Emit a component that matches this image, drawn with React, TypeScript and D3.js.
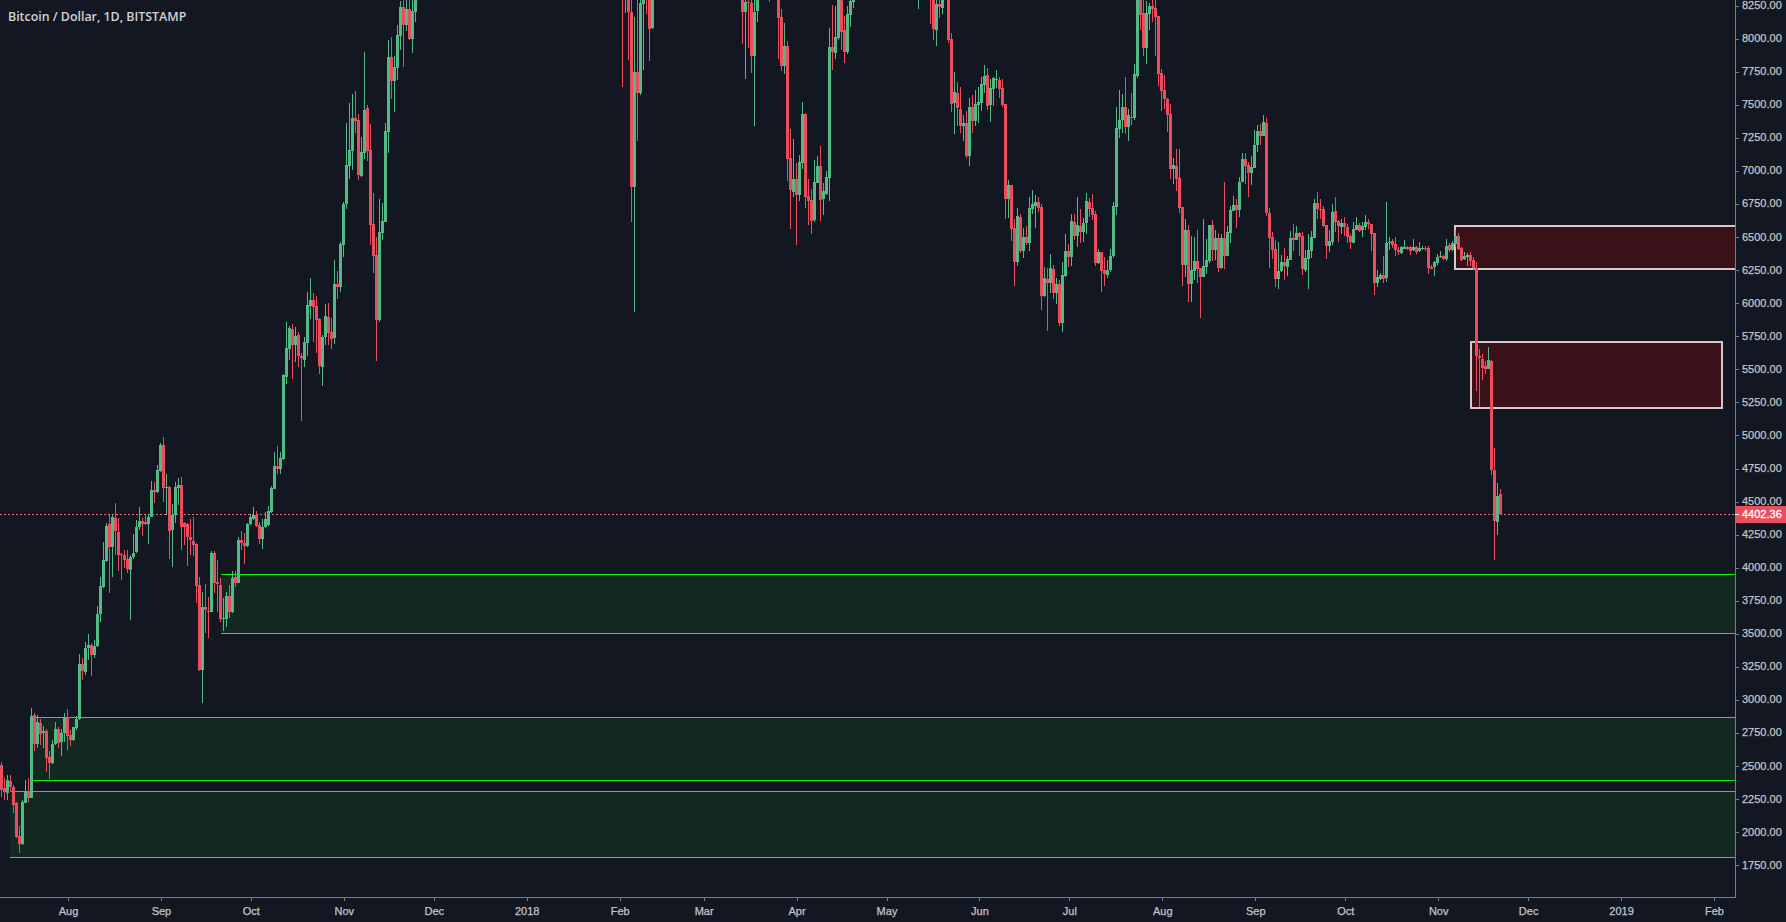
import React from "react";
import * as d3 from "d3";

// [open, high, low, close]. Candles cut by the top edge have estimated hidden parts.
const startJul2017 = "2017-07-10";
const candlesJul2017 = [
[2509,2534,2269,2320],[2332,2408,2244,2307],[2300,2433,2244,2395],[2388,2433,2307,2345],[2345,2358,2148,2206],[2219,2232,1954,1967],[1972,2048,1841,1912],[1912,2244,1904,2232],[2224,2395,2219,2312],[2312,2408,2232,2262],
[2262,2937,2257,2879],[2887,2899,2617,2668],[2668,2887,2635,2836],[2829,2857,2660,2743],[2753,2804,2635,2763],[2768,2783,2458,2564],[2567,2617,2403,2521],[2521,2698,2516,2668],[2668,2831,2660,2781],[2783,2793,2635,2678],
[2683,2778,2577,2753],[2753,2899,2685,2869],[2867,2932,2622,2731],[2736,2773,2652,2698],[2698,2799,2693,2793],[2786,2879,2773,2857],[2854,3348,2849,3272],[3272,3315,3151,3222],[3212,3436,3189,3393],[3391,3499,3303,3416],
[3416,3429,3182,3340],[3338,3454,3315,3408],[3408,3711,3403,3650],[3650,3933,3592,3862],[3852,4192,3844,4059],[4054,4341,4046,4316],[4331,4399,3812,4159],[4159,4399,3933,4381],[4374,4487,4096,4278],[4270,4374,3978,4096],
[4101,4109,3907,4096],[4096,4134,3996,4059],[4064,4134,3963,3991],[3983,4096,3605,4084],[4079,4255,4064,4109],[4117,4361,4109,4311],[4311,4457,4285,4356],[4353,4374,4240,4331],[4348,4399,4323,4331],[4331,4404,4180,4381],
[4386,4656,4381,4588],[4588,4648,4487,4573],[4573,4777,4568,4739],[4734,4941,4726,4928],[4928,4986,4500,4603],[4603,4706,4399,4608],[4613,4621,4066,4278],[4285,4482,4008,4399],[4399,4651,4336,4608],[4605,4676,4474,4626],
[4626,4684,4134,4311],[4336,4348,4172,4311],[4331,4336,4016,4230],[4235,4369,4096,4210],[4202,4381,4089,4172],[4180,4190,3731,3865],[3870,3928,3222,3227],[3227,3819,2980,3701],[3701,3877,3504,3681],[3673,3781,3471,3668],
[3668,4129,3663,4114],[4114,4127,3807,3887],[3890,4059,3668,3877],[3870,3925,3587,3613],[3610,3774,3524,3618],[3613,3814,3550,3786],[3786,3870,3618,3668],[3668,3975,3660,3923],[3928,3978,3857,3887],[3887,4230,3882,4210],
[4210,4278,4134,4190],[4190,4260,4028,4164],[4164,4336,4159,4331],[4328,4406,4323,4381],[4366,4457,4361,4399],[4399,4432,4311,4316],[4321,4348,4180,4220],[4215,4366,4142,4306],[4306,4424,4298,4366],[4323,4467,4316,4429],
[4419,4618,4416,4600],[4595,4873,4593,4769],[4769,4920,4709,4747],[4744,4873,4709,4827],[4822,5462,4815,5457],[5444,5855,5389,5659],[5654,5827,5570,5810],[5802,5843,5427,5684],[5684,5817,5558,5752],[5759,5780,5520,5601],
[5601,5621,5112,5586],[5570,5742,5520,5704],[5701,6082,5601,5986],[5979,6188,5880,6024],[6024,6074,5709,5974],[5979,6054,5621,5873],[5878,5885,5465,5525],[5520,5759,5374,5742],[5742,5994,5684,5903],[5895,5999,5684,5777],
[5782,5885,5654,5729],[5739,6326,5691,6145],[6145,6243,6032,6125],[6125,6462,6087,6447],[6440,6765,6352,6750],[6750,7360,6712,7045],[7040,7516,6939,7158],[7153,7581,7007,7400],[7400,7604,7284,7380],[7385,7430,6931,6969],
[6964,7254,6956,7140],[7133,7899,7090,7460],[7476,7496,7077,7150],[7158,7352,6440,6591],[6599,6830,6226,6357],[6364,6498,5565,5873],[5873,6785,5858,6536],[6533,6755,6478,6619],[6616,7360,6611,7302],[7294,7990,7138,7861],
[7861,8010,7544,7682],[7680,7869,7448,7783],[7778,8103,7687,8027],[8022,8284,7914,8239],[8239,8340,7788,8103],[8103,8340,8060,8224],[8224,8340,7990,7995],[7997,8340,7894,8209],[8201,8400,8126,8320],
];

const startFeb2018 = "2018-02-02";
const candlesFeb2018 = [
[9100,9200,7637,8700],[8600,9100,8191,9000],[9000,9300,7838,8199],[8199,8400,6616,6881],[6881,8161,5936,7748],[7748,8350,7229,7591],[7591,8350,7574,8267],[8262,8500,7763,8400],[8800,8900,8186,8500],[8900,9000,7831,8073],[8080,8900,8075,8700],
];

const startMar2018 = "2018-03-14";
const candlesMar2018 = [
[8500,8600,7959,8201],[8201,8340,7695,8277],[8279,8340,7929,8272],[8267,8340,7743,7871],[7871,8340,7339,8201],[8209,8350,8126,8320],
];

const startLateMar2018 = "2018-03-23";
const candlesLateMar2018 = [[8500,8700,8277,8400]];

const startApr2018 = "2018-03-26";
const candlesApr2018 = [
[8500,8600,7846,8156],[8161,8224,7758,7796],[7796,8118,7733,7944],[7944,7982,6924,7092],[7097,7314,6561,6856],[6843,7239,6805,6939],[6939,7057,6440,6818],[6818,7120,6772,7065],[7062,7518,7014,7430],[7430,7435,6720,6805],
[6810,6936,6591,6775],[6780,6863,6523,6624],[6629,7082,6614,6916],[6911,7113,6906,7037],[7037,7188,6621,6780],[6785,6909,6667,6848],[6825,6997,6815,6954],[6946,8080,6772,7937],[7937,8254,7763,7901],[7891,8247,7846,8012],
[8005,8500,7990,8320],[8320,8500,7914,8050],[8065,8171,7816,7899],[7899,8247,7884,8186],[8179,8350,8088,8284],[8277,8500,8232,8340],
];

const startMidMay2018 = "2018-05-12";
const candlesMidMay2018 = [[8500,8700,8224,8600]];

const startLateMay2018 = "2018-05-16";
const candlesLateMay2018 = [
[8700,8800,8111,8450],[8400,8500,7990,8073],[8065,8340,7944,8262],[8262,8340,8156,8242],[8232,8500,8186,8330],
];

const startSummer2018 = "2018-05-22";
const candlesSummer2018 = [
[8400,8500,7969,7990],[7997,8043,7445,7506],[7513,7748,7279,7597],[7589,7672,7339,7476],[7468,7634,7287,7339],[7339,7423,7226,7362],[7362,7453,7098,7113],[7113,7551,7037,7483],[7483,7574,7287,7377],[7377,7612,7339,7506],
[7498,7634,7362,7521],[7513,7710,7453,7657],[7649,7801,7589,7717],[7725,7778,7460,7491],[7498,7695,7370,7627],[7619,7710,7491,7702],[7687,7763,7627,7697],[7687,7710,7551,7619],[7627,7695,7483,7498],[7506,7506,6636,6788],
[6788,6931,6644,6893],[6893,6893,6470,6561],[6568,6636,6130,6311],[6311,6719,6281,6659],[6651,6674,6377,6394],[6394,6568,6341,6500],[6500,6583,6440,6455],[6455,6803,6394,6720],[6712,6856,6674,6750],[6735,6818,6568,6765],
[6765,6803,6689,6720],[6727,6750,5948,6054],[6054,6273,6049,6190],[6180,6263,5790,6152],[6150,6372,6079,6263],[6256,6289,6032,6074],[6074,6188,5994,6145],[6145,6175,5827,5853],[5853,6314,5782,6213],[6205,6523,6200,6394],
[6394,6447,6271,6349],[6349,6674,6281,6621],[6614,6674,6478,6508],[6508,6803,6425,6591],[6583,6712,6455,6538],[6538,6644,6463,6606],[6606,6833,6523,6772],[6765,6795,6649,6712],[6719,6825,6629,6667],[6674,6699,6281,6304],
[6304,6410,6296,6387],[6387,6387,6084,6243],[6251,6349,6130,6220],[6213,6326,6190,6251],[6251,6410,6236,6357],[6357,6765,6342,6735],[6727,7483,6667,7324],[7317,7612,7249,7385],[7385,7581,7287,7483],[7483,7710,7279,7332],
[7332,7468,7226,7423],[7407,7589,7347,7400],[7400,7808,7385,7733],[7717,8400,7700,8340],[8400,8500,8065,8179],[8191,8300,7869,7929],[7929,8284,7808,8194],[8186,8269,8065,8247],[8247,8340,8126,8224],[8232,8340,7869,8163],
[8171,8171,7642,7733],[7740,7770,7453,7604],[7612,7725,7468,7544],[7544,7551,7294,7423],[7430,7506,6939,7014],[7014,7098,6901,7045],[7037,7166,6848,6939],[6946,7166,6682,6720],[6727,6727,6130,6289],[6289,6636,6198,6553],
[6553,6591,6009,6145],[6145,6508,6009,6251],[6246,6500,6175,6319],[6319,6553,6153,6258],[6266,6266,5888,6198],[6198,6636,6198,6281],[6273,6485,6220,6326],[6319,6591,6304,6591],[6591,6629,6319,6402],[6402,6553,6326,6493],
[6493,6530,6236,6266],[6266,6523,6258,6493],[6493,6916,6258,6357],[6357,6583,6357,6538],[6530,6735,6455,6704],[6697,6810,6697,6742],[6742,6788,6568,6704],[6704,6954,6651,6916],[6916,7135,6916,7090],[7090,7135,6901,7037],
[7045,7067,6803,6984],[6984,7113,6893,7029],[7022,7309,7022,7196],[7196,7347,7143,7302],[7302,7355,7196,7264],[7264,7423,7264,7370],[7362,7400,6659,6682],[6682,6720,6266,6493],[6500,6538,6334,6402],[6410,6478,6122,6183],
[6183,6463,6107,6243],[6243,6364,6236,6311],[6311,6417,6175,6281],[6273,6357,6205,6334],[6326,6546,6326,6493],[6493,6599,6394,6478],[6478,6583,6478,6530],[6530,6538,6357,6500],[6508,6538,6213,6258],[6251,6402,6236,6342],
[6334,6523,6107,6402],[6394,6546,6342,6500],[6493,6788,6493,6757],[6757,6840,6636,6712],[6712,6788,6636,6704],[6712,6735,6576,6583],[6591,6591,6334,6432],[6432,6553,6387,6470],[6463,6750,6440,6689],[6697,6803,6538,6614],
[6621,6629,6463,6583],[6576,6636,6523,6606],[6606,6651,6508,6576],[6576,6599,6455,6500],[6508,6523,6410,6463],[6455,6614,6455,6561],[6553,6651,6553,6591],[6591,6606,6538,6546],[6553,6614,6500,6583],[6576,6667,6553,6614],
[6614,6636,6561,6599],[6599,6599,6394,6523],[6530,6530,6062,6152],[6152,6251,6122,6198],[6183,6228,6175,6213],[6213,6357,6152,6183],[6190,6765,6160,6455],[6452,6503,6402,6465],[6473,6483,6415,6440],[6447,6498,6357,6402],
[6402,6422,6364,6389],[6377,6432,6369,6427],[6412,6478,6407,6427],[6427,6432,6402,6407],[6422,6432,6364,6397],[6402,6483,6397,6422],[6422,6432,6372,6387],[6394,6462,6389,6417],[6407,6432,6402,6420],[6420,6432,6397,6410],
[6420,6432,6221,6268],[6276,6289,6256,6261],[6273,6319,6205,6311],[6301,6372,6289,6349],[6347,6397,6339,6357],[6357,6364,6326,6334],[6334,6483,6319,6432],[6440,6455,6387,6402],[6402,6473,6397,6455],[6447,6553,6427,6508],
[6508,6528,6402,6407],[6417,6422,6319,6326],[6331,6389,6326,6357],[6352,6377,6281,6364],[6364,6389,6281,6321],[6326,6347,6251,6263],[6268,6311,5336,5601],[5601,5654,5213,5586],[5580,5616,5419,5512],[5528,5565,5465,5502],
[5502,5669,5502,5570],[5563,5570,4701,4739],[4739,4905,4058,4353],[4346,4641,4247,4542],[4557,4595,4396,4402.36],
];

const candleSegments: [string, number[][]][] = [
  [startJul2017, candlesJul2017],
  [startFeb2018, candlesFeb2018],
  [startMar2018, candlesMar2018],
  [startLateMar2018, candlesLateMar2018],
  [startApr2018, candlesApr2018],
  [startMidMay2018, candlesMidMay2018],
  [startLateMay2018, candlesLateMay2018],
  [startSummer2018, candlesSummer2018],
];

const priceTicks = d3.range(1750, 8251, 250);
const monthTicks = ["2017-08-01","2017-09-01","2017-10-01","2017-11-01","2017-12-01","2018-01-01","2018-02-01","2018-03-01","2018-04-01","2018-05-01","2018-06-01","2018-07-01","2018-08-01","2018-09-01","2018-10-01","2018-11-01","2018-12-01","2019-01-01","2019-02-01"];
const lastPrice = 4402.36;
const title = "Bitcoin / Dollar, 1D, BITSTAMP";

// [left date, top price, bottom price]
const greenZones: [string, number, number][] = [
  ["2017-09-21T00:00:00Z", 3950, 3504],
  ["2017-07-20T00:00:00Z", 2869, 2392],
  ["2017-07-12T12:00:00Z", 2309, 1810],
];
// [left date, right date, top price, bottom price]
const redBoxes: [string, string | null, number, number][] = [
  ["2018-11-06T00:00:00Z", null, 6593, 6251],
  ["2018-11-11T12:00:00Z", "2019-02-04T00:00:00Z", 5714, 5200],
];

const W = 1786, H = 922, axisX = 1735, axisY = 897;
const BG = "#131722", UP = "#53b987", DOWN = "#eb4d5c", AXIS = "#7b7d82";
const FONT = "'Liberation Sans', Arial, sans-serif";

const day = (s: string) => new Date(s.length > 10 ? s : s + "T00:00:00Z");
const x = d3.scaleUtc().domain([day("2017-08-01"), day("2019-02-01")]).range([68.5, 1714.5]);
const y = d3.scaleLinear().domain([1750, 8250]).range([865.3, 5.6]);
const fmtMonth = (d: Date) => d.getUTCMonth() === 0 ? d3.utcFormat("%Y")(d) : d3.utcFormat("%b")(d);

const candles = candleSegments.flatMap(([start, rows]) =>
  rows.map((r, i) => ({ date: d3.utcDay.offset(day(start), i), o: r[0], h: r[1], l: r[2], c: r[3] }))
);

export default function App() {
  const lastY = Math.round(y(lastPrice));
  return (
    <svg width={W} height={H} viewBox={`0 0 ${W} ${H}`} style={{ position: "fixed", left: 0, top: 0, display: "block", background: BG }}>
      <defs>
        <clipPath id="plot"><rect x={0} y={0} width={axisX} height={axisY} /></clipPath>
      </defs>
      <rect width={W} height={H} fill={BG} />
      <g clipPath="url(#plot)" shapeRendering="crispEdges">
        {greenZones.map(([left, top, bottom], i) => {
          const x0 = Math.round(x(day(left)));
          const yt = Math.round(y(top)), yb = Math.round(y(bottom));
          return (
            <g key={i}>
              <rect x={x0} y={yt} width={axisX - x0} height={yb - yt} fill="#132820" />
              <rect x={x0} y={yt} width={axisX - x0} height={1} fill="#0df50d" />
              <rect x={x0} y={yb} width={axisX - x0} height={1} fill="#0df50d" />
            </g>
          );
        })}
        {redBoxes.map(([left, right, top, bottom], i) => {
          const x0 = Math.round(x(day(left)));
          const x1 = right ? Math.round(x(day(right))) : axisX + 4;
          const yt = Math.round(y(top)), yb = Math.round(y(bottom));
          return <rect key={i} x={x0 + 1} y={yt + 1} width={x1 - x0 - 2} height={yb - yt - 2} fill="#3a1118" stroke="#d9c6c9" strokeWidth={2} />;
        })}
        <line x1={0} x2={axisX} y1={lastY + 0.5} y2={lastY + 0.5} stroke="#ee6a77" strokeDasharray="2 2" />
        {candles.map((k, i) => {
          const cx = x(k.date) - 1;
          const wx = Math.floor(cx);
          const top = y(Math.max(k.o, k.c)), bottom = y(Math.min(k.o, k.c));
          const fill = k.c >= k.o ? UP : DOWN;
          return (
            <g key={i} fill={fill}>
              <rect x={wx} y={y(k.h)} width={1} height={y(k.l) - y(k.h)} />
              <rect x={wx - 1} y={top} width={3} height={Math.max(1, bottom - top)} />
            </g>
          );
        })}
      </g>
      <rect x={axisX} y={0} width={1} height={axisY + 1} fill={AXIS} shapeRendering="crispEdges" />
      <rect x={0} y={axisY} width={axisX} height={1} fill={AXIS} shapeRendering="crispEdges" />
      <g fontFamily={FONT} fontSize={11} fill="#c3c5ca" stroke="#c3c5ca" strokeWidth={0.25}>
        {priceTicks.map((p) => (
          <g key={p}>
            <rect x={axisX} y={Math.round(y(p))} width={4} height={1} fill={AXIS} stroke="none" shapeRendering="crispEdges" />
            <text x={1742} y={y(p) - 0.5} dy="0.36em">{p.toFixed(2)}</text>
          </g>
        ))}
        {monthTicks.map((m) => (
          <g key={m}>
            <rect x={Math.floor(x(day(m)))} y={axisY} width={1} height={4} fill={AXIS} stroke="none" shapeRendering="crispEdges" />
            <text x={x(day(m))} y={915} textAnchor="middle">{fmtMonth(day(m))}</text>
          </g>
        ))}
      </g>
      <rect x={axisX} y={506} width={W - axisX} height={17} fill={DOWN} shapeRendering="crispEdges" />
      <rect x={axisX} y={lastY} width={4} height={1} fill="#ffffff" shapeRendering="crispEdges" />
      <text x={1742} y={y(lastPrice)} dy="0.36em" fontFamily={FONT} fontSize={11} fill="#ffffff" stroke="#ffffff" strokeWidth={0.3}>{lastPrice.toFixed(2)}</text>
      <text x={8} y={21} fontFamily="'Open Sans', sans-serif" fontSize={12.4} fontWeight={600} fill="#d0d2d6">{title}</text>
    </svg>
  );
}
